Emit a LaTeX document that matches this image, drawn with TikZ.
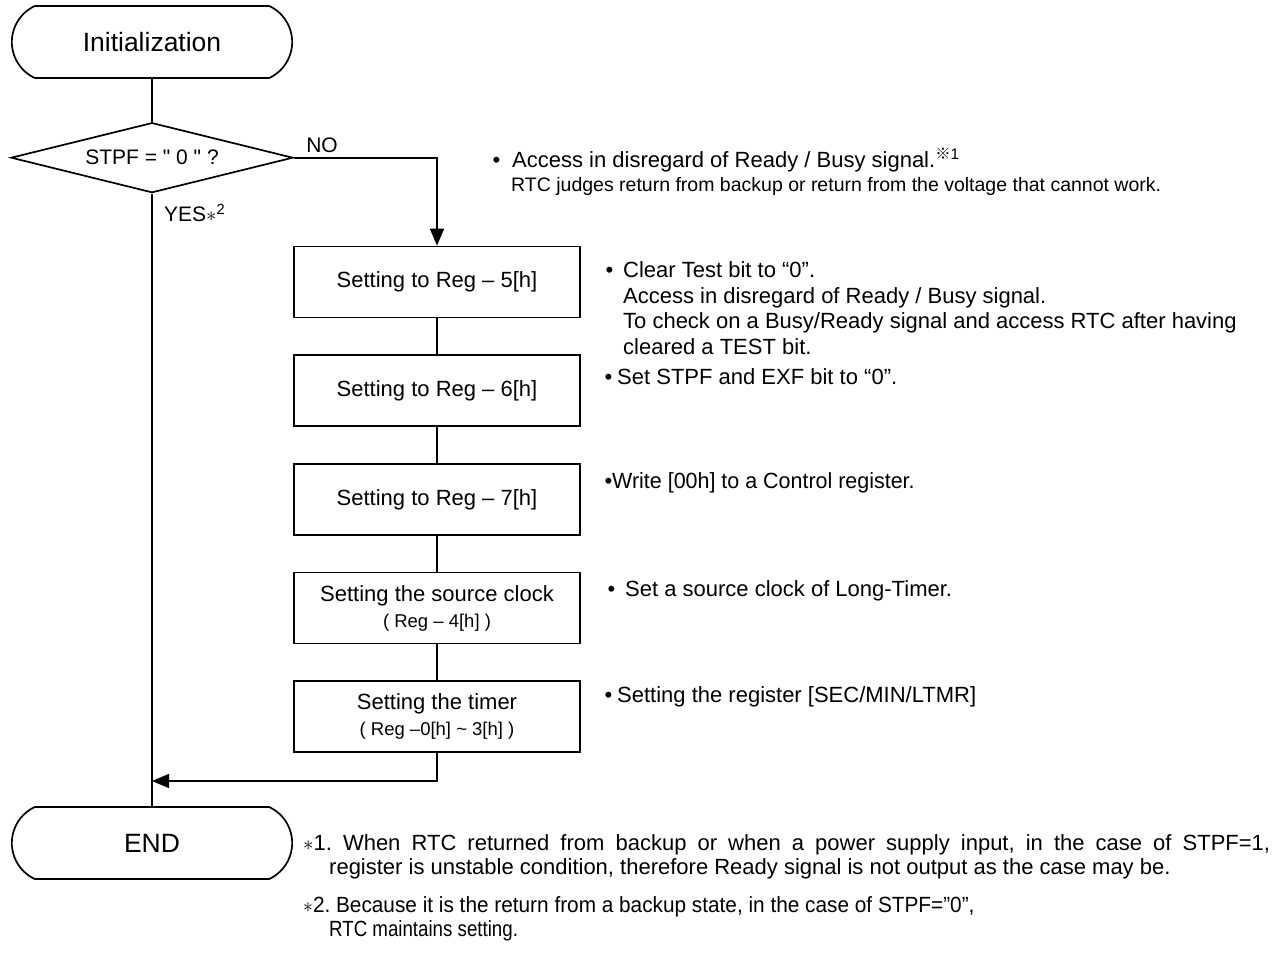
\documentclass[tikz,border=0pt]{standalone}
\usepackage{fontspec}
\setmainfont{Liberation Sans}
\newfontfamily\cjk{Noto Sans CJK JP}
\usetikzlibrary{shapes.geometric,shapes.misc,arrows.meta,positioning}
\newcommand{\squeeze}[2]{\scalebox{#1}[1]{#2}}
\frenchspacing

\begin{document}
\begin{tikzpicture}[x=1pt, y=-1pt,
  term/.style={draw, line width=1.7pt, rounded rectangle,
               rounded rectangle arc length=130,
               minimum width=287pt, minimum height=72pt,
               font=\fontsize{26.5}{30}\selectfont},
  decide/.style={draw, line width=1.7pt, diamond, shape aspect=4,
                 minimum width=282pt, minimum height=70pt, inner sep=0pt,
                 font=\fontsize{21}{25}\selectfont},
  regbox/.style={draw, line width=1.7pt, rectangle,
                 minimum width=286pt, minimum height=71pt, align=center,
                 font=\fontsize{22}{26}\selectfont},
  note/.style={anchor=west, inner sep=0pt, align=left,
               font=\fontsize{22}{25.5}\selectfont},
  lbl/.style={inner sep=0pt, font=\fontsize{21}{25}\selectfont},
  line/.style={line width=1.7pt},
  arr/.style={line width=1.7pt, -{Triangle[length=17pt,width=14pt]}},
  node distance=36pt
]
\useasboundingbox (0,0) rectangle (1279,953);

% flow
\node[term] (init) at (152,42) {Initialization};
\node[decide, below=43pt of init] (stpf) {STPF = \textquotedbl\ 0 \textquotedbl\ ?};
\node[regbox] (reg5) at (437,282) {Setting to Reg -- 5[h]};
\node[regbox, below=of reg5] (reg6) {Setting to Reg -- 6[h]};
\node[regbox, below=of reg6] (reg7) {Setting to Reg -- 7[h]};
\node[regbox, below=of reg7] (src)  {Setting the source clock\\
  {\fontsize{18.5}{22}\selectfont ( Reg -- 4[h] )}};
\node[regbox, below=of src]  (tmr)  {Setting the timer\\
  {\fontsize{18.5}{22}\selectfont ( Reg --0[h] \textasciitilde\ 3[h] )}};
\node[term] (fin) at (152,843) {END};
\coordinate (merge) at (152,781);

\draw[line] (init) -- (stpf);
\draw[arr]  (stpf.east) -| (reg5.north);
\draw[line] (reg5) -- (reg6);
\draw[line] (reg6) -- (reg7);
\draw[line] (reg7) -- (src);
\draw[line] (src)  -- (tmr);
\draw[line] (stpf.south) -- (fin.north);
\draw[arr]  (tmr.south) |- (merge);

\node[lbl] (no) at (322,145) {NO};
\node[lbl, anchor=west] (yes) at (164,213) {YES$\ast$\textsuperscript{2}};

% notes
\node[note] (n0) at (512,160) {\llap{\textbullet\hspace{12pt}}Access in disregard of Ready / Busy signal.\textsuperscript{{\cjk ※}1}};
\node[note, font=\fontsize{19.5}{22}\selectfont] (n0b) at (511,186)
  {RTC judges return from backup or return from the voltage that cannot work.};
\node[note] (n1) at (623,308) {\llap{\textbullet\hspace{10pt}}Clear Test bit to “0”.\\
  Access in disregard of Ready / Busy signal.\\
  To check on a Busy/Ready signal and access RTC after having\\
  cleared a TEST bit.};
\node[note] (n2) at (617,377) {\llap{\textbullet\hspace{5pt}}Set STPF and EXF bit to “0”.};
\node[note] (n3) at (612,483) {\llap{\textbullet}\squeeze{0.975}{Write [00h] to a Control register.}};
\node[note] (n4) at (625,591) {\llap{\textbullet\hspace{10pt}}Set a source clock of Long-Timer.};
\node[note] (n5) at (617,697) {\llap{\textbullet\hspace{5pt}}Setting the register [SEC/MIN/LTMR]};

% footnotes
\node[note] (fn1) at (303,845) {\makebox[967pt][s]{$\ast$1. When RTC returned from backup or when a power supply input, in the case of STPF=1,}};
\node[note] (fn1b) at (329,869) {register is unstable condition, therefore Ready signal is not output as the case may be.};
\node[note] (fn2) at (303,907) {\squeeze{0.945}{$\ast$2. Because it is the return from a backup state, in the case of STPF=”0”,}};
\node[note] (fn2b) at (329,931) {\squeeze{0.85}{RTC maintains setting.}};
\end{tikzpicture}
\end{document}
